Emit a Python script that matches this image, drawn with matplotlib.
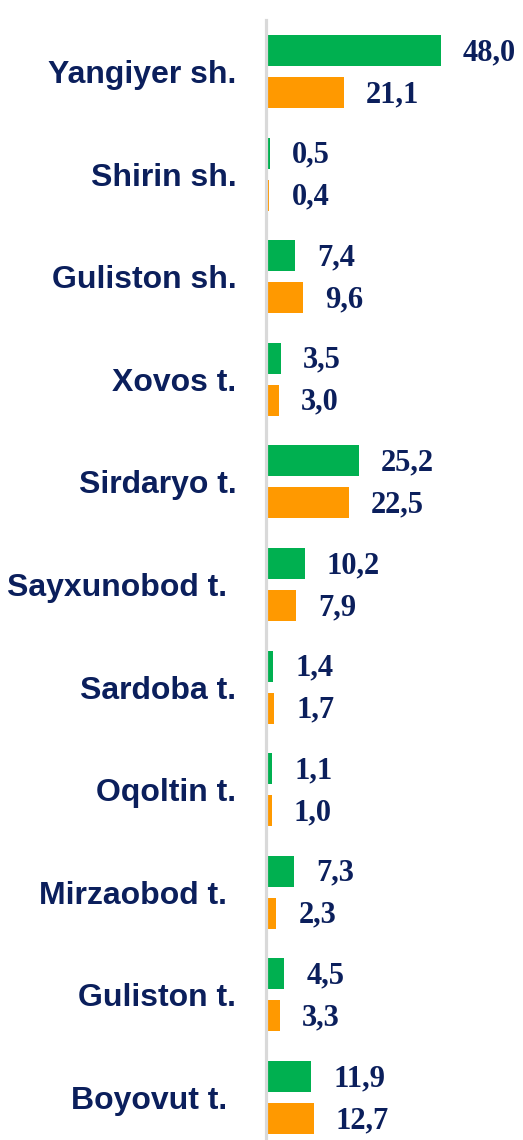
import matplotlib
matplotlib.use("Agg")
from matplotlib import pyplot as plt

districts = ["Yangiyer sh.", "Shirin sh.", "Guliston sh.", "Xovos t.", "Sirdaryo t.",
             "Sayxunobod t. ", "Sardoba t.", "Oqoltin t.", "Mirzaobod t. ", "Guliston t.",
             "Boyovut t. "]
green_vals = [48.0, 0.5, 7.4, 3.5, 25.2, 10.2, 1.4, 1.1, 7.3, 4.5, 11.9]
orange_vals = [21.1, 0.4, 9.6, 3.0, 22.5, 7.9, 1.7, 1.0, 2.3, 3.3, 12.7]

GREEN = "#00B050"
ORANGE = "#FF9900"
NAVY = "#0B1F5C"

W, H = 523, 1140
fig = plt.figure(figsize=(W / 100, H / 100), dpi=100)

# axes placed in pixel terms: left spine at x~265, top at y~20
left_px, top_px = 265.5, 20
ax = fig.add_axes([left_px / W, 0, 1 - left_px / W, 1 - top_px / H])

px_per_unit = 3.6
x0 = -2.5 / px_per_unit
ax.set_xlim(x0, x0 + (W - left_px) / px_per_unit)

pitch = 102.6
ytop = -51.5 / pitch
ax.set_ylim(ytop + (H - top_px) / pitch, ytop)

off = 21 / pitch
bh = 31 / pitch
ys = list(range(len(districts)))

ax.barh([y - off for y in ys], green_vals, height=bh, color=GREEN, left=0)
ax.barh([y + off for y in ys], orange_vals, height=bh, color=ORANGE, left=0)

def fmt(v):
    return f"{v:.1f}".replace(".", ",")

for y, g, o in zip(ys, green_vals, orange_vals):
    for val, yy in ((g, y - off), (o, y + off)):
        ax.annotate(fmt(val), xy=(val, yy), xytext=(16, -1.5), textcoords="offset points",
                    ha="left", va="center", fontsize=22, fontweight="bold",
                    family="Liberation Serif", color=NAVY)

ax.set_yticks(ys)
ax.set_yticklabels(districts, fontsize=23, fontweight="bold",
                   family="Liberation Sans", color=NAVY)
ax.tick_params(axis="y", length=0, pad=21)
ax.set_xticks([])

for s in ["top", "right", "bottom"]:
    ax.spines[s].set_visible(False)
ax.spines["left"].set_color("#D9D9D9")
ax.spines["left"].set_linewidth(2.3)

fig.savefig("out.png", dpi=100)
